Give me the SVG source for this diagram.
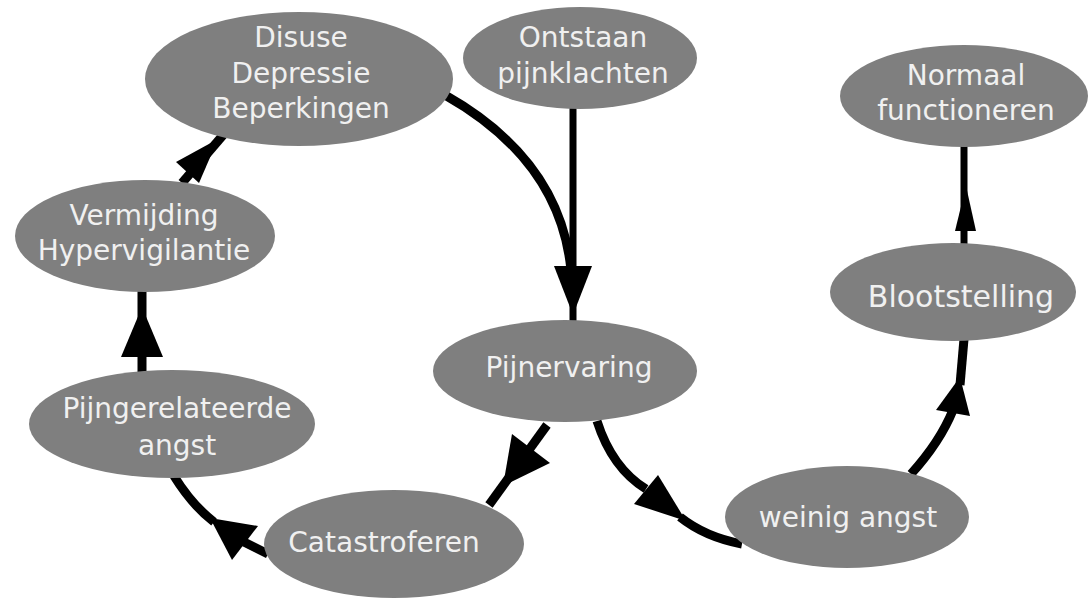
<svg xmlns="http://www.w3.org/2000/svg" width="1089" height="599" viewBox="0 0 1089 599">
<style>
.n{fill:#7f7f7f}
.t{fill:#f0f0f0;font-family:"DejaVu Sans",Verdana,sans-serif;font-size:28px;text-anchor:middle}
.c{fill:none;stroke:#000;stroke-width:9;stroke-linecap:butt}
.ah{fill:#000}
</style>
<rect width="1089" height="599" fill="#fff"/>
<g id="connectors">
  <!-- Disuse -> Pijnervaring -->
  <path class="c" d="M445,95 Q560,160 571,270"/>
  <!-- Ontstaan -> Pijnervaring -->
  <path class="c" style="stroke-width:7" d="M573,108 L573,322"/>
  <polygon class="ah" points="554,266 592,266 573,315"/>
  <!-- Pijnervaring -> Catastroferen -->
  <path class="c" d="M547,425 L489,505"/>
  <polygon class="ah" points="512,434 550,463 503,486"/>
  <!-- Catastroferen -> Pijngerelateerde -->
  <path class="c" d="M268,554 L244,542"/>
  <polygon class="ah" points="258,526 232,560 210,518"/>
  <path class="c" d="M214,522 Q192,505 174,476"/>
  <!-- Pijngerelateerde -> Vermijding -->
  <path class="c" d="M142,372 L142,290"/>
  <polygon class="ah" points="121,357 163,357 142,307"/>
  <!-- Vermijding -> Disuse -->
  <path class="c" d="M182,183 L224,134"/>
  <polygon class="ah" points="176,162 199,183 218,139"/>
  <!-- Pijnervaring -> weinig angst -->
  <path class="c" d="M597,421 Q612,468 646,489"/>
  <polygon class="ah" points="634,504 658,475 686,521"/>
  <path class="c" d="M680,517 Q705,537 742,544"/>
  <!-- weinig angst -> Blootstelling -->
  <path class="c" d="M911,474 Q940,442 953,410"/>
  <polygon class="ah" points="936,410 970,416 960,377"/>
  <path class="c" d="M960,385 L964,339"/>
  <!-- Blootstelling -> Normaal functioneren -->
  <path class="c" style="stroke-width:7" d="M964,245 L964,146"/>
  <polygon class="ah" points="955,231 976,231 966,186"/>
</g>
<g id="node-disuse">
  <ellipse class="n" cx="299" cy="79" rx="154" ry="67"/>
  <text class="t" x="301" y="47">Disuse</text>
  <text class="t" x="301" y="83">Depressie</text>
  <text class="t" x="301" y="118">Beperkingen</text>
</g>
<g id="node-ontstaan">
  <ellipse class="n" cx="580" cy="58" rx="117" ry="51"/>
  <text class="t" x="583" y="47">Ontstaan</text>
  <text class="t" x="583" y="83">pijnklachten</text>
</g>
<g id="node-normaal">
  <ellipse class="n" cx="964" cy="96" rx="124" ry="51"/>
  <text class="t" x="966" y="85">Normaal</text>
  <text class="t" x="966" y="120">functioneren</text>
</g>
<g id="node-vermijding">
  <ellipse class="n" cx="145" cy="236" rx="130" ry="56"/>
  <text class="t" x="144" y="225">Vermijding</text>
  <text class="t" x="144" y="260">Hypervigilantie</text>
</g>
<g id="node-blootstelling">
  <ellipse class="n" cx="953" cy="292" rx="123" ry="49"/>
  <text class="t" x="961" y="307" style="font-size:30px">Blootstelling</text>
</g>
<g id="node-pijnervaring">
  <ellipse class="n" cx="565" cy="371" rx="132" ry="51"/>
  <text class="t" x="569" y="377">Pijnervaring</text>
</g>
<g id="node-pijngerelateerde">
  <ellipse class="n" cx="172" cy="424" rx="143" ry="54"/>
  <text class="t" x="177" y="418">Pijngerelateerde</text>
  <text class="t" x="177" y="455">angst</text>
</g>
<g id="node-catastroferen">
  <ellipse class="n" cx="394" cy="544" rx="130" ry="54"/>
  <text class="t" x="384" y="552">Catastroferen</text>
</g>
<g id="node-weinig">
  <ellipse class="n" cx="847" cy="517" rx="122" ry="51"/>
  <text class="t" x="848" y="527">weinig angst</text>
</g>
</svg>
